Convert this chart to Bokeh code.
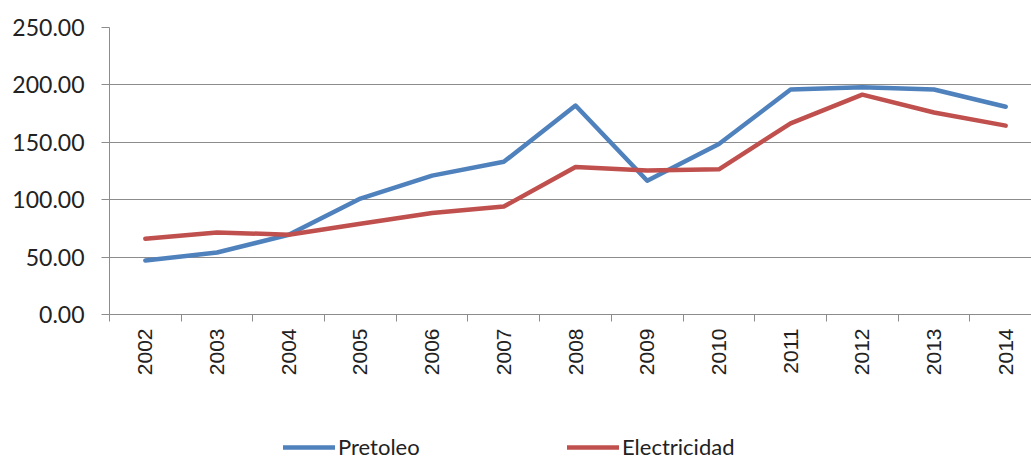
import math
from bokeh.plotting import figure
from bokeh.layouts import column
from bokeh.models import (ColumnDataSource, Range1d, FixedTicker, NumeralTickFormatter,
                          Legend, LegendItem)
from bokeh.embed import file_html
from bokeh.resources import INLINE

years = ["2002", "2003", "2004", "2005", "2006", "2007", "2008",
         "2009", "2010", "2011", "2012", "2013", "2014"]
pretoleo = [47.0, 54.0, 69.5, 101.0, 121.0, 133.0, 182.0,
            116.5, 148.5, 196.0, 198.0, 196.0, 181.0]
electricidad = [66.0, 71.5, 69.5, 79.0, 88.5, 94.0, 128.5,
                125.5, 126.5, 166.5, 191.5, 176.0, 164.5]
y_ticks = [0, 50, 100, 150, 200, 250]

BLUE = "#4F81BD"
RED = "#C0504D"
GRID = "#8c8c8c"
TEXT = "#222222"

xs = list(range(len(years)))
src = ColumnDataSource(data=dict(x=xs, p=pretoleo, e=electricidad))

p = figure(width=1031, height=410, output_backend="svg", toolbar_location=None,
           x_range=Range1d(-0.5, 12.36), y_range=Range1d(0, 250),
           min_border_left=109, min_border_right=0, min_border_top=27,
           min_border_bottom=96)
p.outline_line_color = None
p.background_fill_color = "white"
p.border_fill_color = "white"

p.line("x", "p", source=src, line_color=BLUE, line_width=4.5,
       line_cap="round", line_join="round")
p.line("x", "e", source=src, line_color=RED, line_width=4.5,
       line_cap="round", line_join="round")

# x axis
xa = p.xaxis[0]
xa.ticker = FixedTicker(ticks=xs, minor_ticks=[i - 0.5 for i in range(len(years) + 1)])
xa.major_label_overrides = {i: y for i, y in enumerate(years)}
xa.major_label_orientation = math.pi / 2
xa.major_tick_out = 0
xa.major_tick_in = 0
xa.minor_tick_out = 7
xa.minor_tick_in = 0
xa.minor_tick_line_color = GRID
xa.axis_line_color = GRID
xa.major_label_standoff = 7
xa.major_label_text_font = "Liberation Sans"
xa.major_label_text_font_size = "21px"
xa.major_label_text_color = TEXT

# y axis
ya = p.yaxis[0]
ya.ticker = FixedTicker(ticks=y_ticks, minor_ticks=[])
ya.formatter = NumeralTickFormatter(format="0.00")
ya.major_tick_out = 8
ya.major_tick_in = 0
ya.major_tick_line_color = GRID
ya.minor_tick_line_color = None
ya.axis_line_color = GRID
ya.major_label_standoff = 17
ya.major_label_text_font = "Lato"
ya.major_label_text_font_size = "23px"
ya.major_label_text_color = TEXT

p.xgrid.grid_line_color = None
p.ygrid.ticker = FixedTicker(ticks=y_ticks)
p.ygrid.grid_line_color = GRID
p.ygrid.grid_line_width = 1

# legend strip below the chart (series drawn off-screen, only the legend shows)
lg = figure(width=1031, height=50, output_backend="svg", toolbar_location=None,
            x_range=Range1d(-0.5, 12.36), y_range=Range1d(1000, 1001),
            x_axis_type=None, y_axis_type=None,
            min_border_left=0, min_border_right=0, min_border_top=0,
            min_border_bottom=0)
lg.outline_line_color = None
lg.background_fill_color = "white"
lg.border_fill_color = "white"
l1 = lg.line("x", "p", source=src, line_color=BLUE, line_width=4.5, line_cap="round")
l2 = lg.line("x", "e", source=src, line_color=RED, line_width=4.5, line_cap="round")

legend = Legend(items=[LegendItem(label="Pretoleo", renderers=[l1]),
                       LegendItem(label="Electricidad", renderers=[l2])],
                location=(174, 0), orientation="horizontal",
                glyph_width=52, glyph_height=20, label_standoff=3,
                label_width=229, label_height=20,
                padding=0, margin=0, spacing=0,
                border_line_color=None, background_fill_alpha=0,
                label_text_font="Lato", label_text_font_size="22px",
                label_text_color=TEXT)
lg.add_layout(legend, "center")

layout = column(p, lg, spacing=0)
open("out.html", "w").write(file_html(layout, INLINE))
